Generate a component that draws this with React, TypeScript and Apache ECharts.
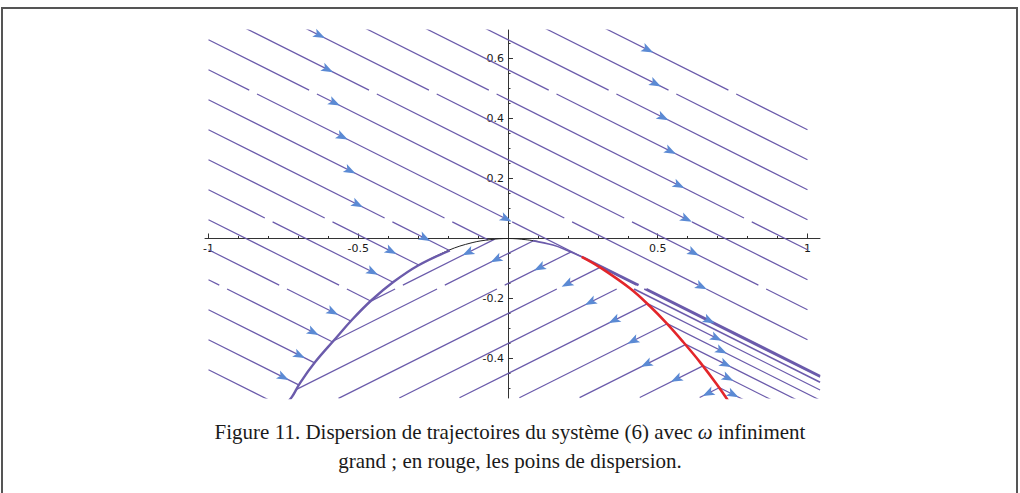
import React, { useEffect, useRef } from "react";
import * as echarts from "echarts";

// ---- data ----
const upperSlope = -0.5;
const lowerSlope = 0.5;

// upper family y = -0.5x + c  (arrows point right / down)
const upperC = [0.8625, 0.7625, 0.6625, 0.5625, 0.4625, 0.3625, 0.2625, 0.1625, 0.0625, -0.0375, -0.1375, -0.2375, -0.3375, -0.4375, -0.5375, -0.6375, -0.7375, -0.8375, -0.9375];
const upperXStart = [-1, -1, -1, -1, -1, -1, -1, -1, -1, -1, -1, -1, -1, -1, -1, -1, -1, -1, -1];
const upperXEnd = [1, 1, 1, 1, 1, 1, 1, 1, 0.25, -0.066, -0.197, -0.298, -0.382, -0.457, -0.525, -0.587, -0.644, -0.699, -0.75];

// bundle of lines leaving the tangency point (thick band)
const bandC = [0.0625, 0.059, 0.042];
const bandXStart = [0.25, 0.309, 0.392];
const bandXEnd = [1.042, 1.042, 1.042];

// thin lines leaving the red curve to the right
const fanC = [0.016, -0.018, -0.056, -0.098, -0.144];
const fanXStart = [0.466, 0.533, 0.594, 0.651, 0.705];
const fanXEnd = [1.042, 1.042, 1.042, 1.042, 1.042];

// lower family y = 0.5x + d  (arrows point left / down)
const lowerD = [0.02, -0.05, -0.15, -0.25, -0.35, -0.45, -0.55, -0.65, -0.75, -0.85];
const lowerXRight = [-0.044, 0.085, 0.211, 0.309, 0.392, 0.466, 0.533, 0.594, 0.651, 0.705];
const lowerXLeft = [-0.456, -0.585, -0.711, -0.566, -0.363, -0.162, 0.038, 0.239, 0.44, 0.64];

// heights at which the streamlines are interrupted
const gapBandsY = [0.488, 0.062, -0.162];
const gapHalfWidthX = 0.013;

// curves
const leftBranchX = [-0.74, -0.722, -0.694, -0.644, -0.578, -0.52, -0.455, -0.384, -0.3, -0.194];
const leftBranchY = [-0.548, -0.529, -0.481, -0.412, -0.336, -0.27, -0.205, -0.146, -0.09, -0.04];
const blackCurveX = [-0.3, -0.2, -0.12, -0.06, 0, 0.06, 0.1];
const blackCurveY = [-0.09, -0.04, -0.014, -0.004, 0, -0.004, -0.01];
const rightThinX = [0.083, 0.15, 0.196, 0.246];
const rightThinY = [-0.007, -0.022, -0.039, -0.061];
const redX = [0.246, 0.307, 0.407, 0.474, 0.53, 0.585, 0.641, 0.697, 0.74];
const redY = [-0.061, -0.096, -0.166, -0.226, -0.283, -0.345, -0.412, -0.486, -0.548];

// arrows
const upperArrowC = [0.3625, 0.2625, 0.1625, 0.0625, -0.0375, -0.1375, -0.1375, -0.2375, -0.3375, -0.5375, -0.6375, -0.7375, -0.8375,
  0.8625, 0.7625, 0.6625, 0.5625, 0.4625, 0.3625, 0.2625, 0.1625, 0.0625, 0.0625, 0.016, -0.018, -0.056, -0.098, -0.144];
const upperArrowX = [-0.629, -0.602, -0.579, -0.553, -0.527, -0.502, -0.277, -0.39, -0.452, -0.585, -0.65, -0.696, -0.75,
  0.467, 0.493, 0.518, 0.543, 0.571, 0.596, 0.62, 0.646, 0.672, -0.006, 0.696, 0.713, 0.727, 0.735, 0.752];
const lowerArrowD = [0.02, -0.05, -0.15, -0.25, -0.35, -0.45, -0.55, -0.65, -0.75, -0.85];
const lowerArrowX = [-0.134, -0.04, 0.105, 0.197, 0.275, 0.354, 0.417, 0.462, 0.562, 0.668];

// axis ticks
const xMajorTicks = [-1, -0.5, 0.5, 1];
const xMinorTicks = [-1, -0.9, -0.8, -0.7, -0.6, -0.5, -0.4, -0.3, -0.2, -0.1, 0.1, 0.2, 0.3, 0.4, 0.5, 0.6, 0.7, 0.8, 0.9, 1];
const yMajorTicks = [-0.4, -0.2, 0.2, 0.4, 0.6];
const yMinorTicks = [-0.5, -0.45, -0.4, -0.35, -0.3, -0.25, -0.2, -0.15, -0.1, -0.05, 0.05, 0.1, 0.15, 0.2, 0.25, 0.3, 0.35, 0.4, 0.45, 0.5, 0.55, 0.6, 0.65];

const captionLine1 = "Figure 11. Dispersion de trajectoires du système (6) avec {i|ω} infiniment";
const captionLine2 = "grand ; en rouge, les poins de dispersion.";

const PURPLE = "#6b5bab";
const ARROW = "#5b8ad4";
const XMIN = -1.0117, XMAX = 1.0418, YMIN = -0.5317, YMAX = 0.695;
const GRID = { left: 205, top: 30, width: 615, height: 368 };

// split a straight streamline into pieces, leaving the gaps seen in the picture
function pieces(slope: number, c: number, x0: number, x1: number): number[][][] {
  const lo = Math.min(x0, x1), hi = Math.max(x0, x1);
  const cuts = gapBandsY.map((yb) => (yb - c) / slope).filter((xb) => xb > lo + gapHalfWidthX && xb < hi - gapHalfWidthX).sort((a, b) => a - b);
  const out: number[][][] = [];
  let start = lo;
  cuts.forEach((xb) => {
    out.push([[start, slope * start + c], [xb - gapHalfWidthX, slope * (xb - gapHalfWidthX) + c]]);
    start = xb + gapHalfWidthX;
  });
  out.push([[start, slope * start + c], [hi, slope * hi + c]]);
  return out;
}
function zip(xs: number[], ys: number[]) {
  return xs.map((x, i) => [x, ys[i]]);
}
function lineSeries(data: number[][], color: string, width: number, z = 2, smooth: boolean | number = false) {
  return { type: "line", data, showSymbol: false, symbol: "none", smooth, clip: true, silent: true, z,
    lineStyle: { color, width, cap: "butt" } };
}

const ARROW_PATH = "path://M5,0 L10,13 L5,10 L0,13 Z";

export default function App() {
  const ref = useRef<HTMLDivElement>(null);
  useEffect(() => {
    document.body.style.margin = "0";
    const chart = echarts.init(ref.current!, undefined, { renderer: "svg" });
    const series: any[] = [];
    const addFamily = (slope: number, cs: number[], xa: number[], xb: number[], width: (i: number) => number, z: number) => {
      cs.forEach((c, i) => pieces(slope, c, xa[i], xb[i]).forEach((p) => series.push(lineSeries(p, PURPLE, width(i), z))));
    };
    addFamily(upperSlope, upperC, upperXStart, upperXEnd, () => 1.2, 2);
    addFamily(upperSlope, bandC, bandXStart, bandXEnd, (i) => (i === 0 ? 2.4 : 1.6), 3);
    addFamily(upperSlope, fanC, fanXStart, fanXEnd, () => 1.2, 2);
    addFamily(lowerSlope, lowerD, lowerXLeft, lowerXRight, () => 1.2, 2);
    series.push(lineSeries(zip(blackCurveX, blackCurveY), "#222", 1, 3, 0.4));
    series.push(lineSeries(zip(leftBranchX, leftBranchY), PURPLE, 2.4, 4, 0.4));
    series.push(lineSeries(zip(rightThinX, rightThinY), PURPLE, 1.6, 4, 0.4));
    series.push(lineSeries(zip(redX, redY), "#e3262a", 2.6, 5, 0.4));
    series.push({
      type: "scatter", z: 6, silent: true, symbol: ARROW_PATH, symbolSize: [9, 12], symbolRotate: -116.57,
      itemStyle: { color: ARROW, opacity: 1 },
      data: upperArrowX.map((x, i) => [x, upperSlope * x + upperArrowC[i]]),
    });
    series.push({
      type: "scatter", z: 6, silent: true, symbol: ARROW_PATH, symbolSize: [9, 12], symbolRotate: 116.57,
      itemStyle: { color: ARROW, opacity: 1 },
      data: lowerArrowX.map((x, i) => [x, lowerSlope * x + lowerArrowD[i]]),
    });

    // place axes through the origin with offsets computed from the scales
    const zeroYpx = GRID.top + (YMAX / (YMAX - YMIN)) * GRID.height;
    const zeroXpx = GRID.left + (-XMIN / (XMAX - XMIN)) * GRID.width;
    const xOffset = zeroYpx - (GRID.top + GRID.height);
    const yOffset = GRID.left - zeroXpx;

    const labelStyle = { fontFamily: "DejaVu Sans", fontSize: 11, color: "#1a1a1a" };
    chart.setOption({
      animation: false,
      backgroundColor: "#fff",
      grid: { ...GRID, containLabel: false },
      title: {
        text: captionLine1 + "\n" + captionLine2,
        left: "center",
        top: 412,
        textStyle: {
          fontFamily: "Liberation Serif", fontSize: 21, fontWeight: "normal", color: "#1a1a1a", lineHeight: 29,
          rich: { i: { fontFamily: "Liberation Serif", fontStyle: "italic", fontSize: 21, color: "#1a1a1a", lineHeight: 29 } },
        },
      },
      xAxis: [
        {
          type: "value", min: XMIN, max: XMAX, position: "bottom", offset: xOffset,
          axisLine: { show: true, onZero: false, lineStyle: { color: "#333", width: 1 } },
          axisTick: { show: true, inside: true, length: 5, customValues: xMajorTicks, lineStyle: { color: "#333" } },
          axisLabel: { show: true, customValues: xMajorTicks, margin: 5, ...labelStyle },
          splitLine: { show: false },
        },
        {
          type: "value", min: XMIN, max: XMAX, position: "bottom", offset: xOffset,
          axisLine: { show: false, onZero: false },
          axisTick: { show: true, inside: true, length: 2.5, customValues: xMinorTicks, lineStyle: { color: "#333" } },
          axisLabel: { show: false },
          splitLine: { show: false },
        },
      ],
      yAxis: [
        {
          type: "value", min: YMIN, max: YMAX, position: "left", offset: yOffset,
          axisLine: { show: true, onZero: false, lineStyle: { color: "#333", width: 1 } },
          axisTick: { show: true, inside: true, length: 5, customValues: yMajorTicks, lineStyle: { color: "#333" } },
          axisLabel: { show: true, customValues: yMajorTicks, margin: 4, ...labelStyle },
          splitLine: { show: false },
        },
        {
          type: "value", min: YMIN, max: YMAX, position: "left", offset: yOffset,
          axisLine: { show: false, onZero: false },
          axisTick: { show: true, inside: true, length: 2.5, customValues: yMinorTicks, lineStyle: { color: "#333" } },
          axisLabel: { show: false },
          splitLine: { show: false },
        },
      ],
      graphic: [
        { type: "rect", shape: { x: 2, y: 8, width: 1015, height: 500 }, style: { fill: "none", stroke: "#555", lineWidth: 2 }, silent: true, z: 10 },
      ],
      series,
    });
    return () => chart.dispose();
  }, []);
  return <div ref={ref} style={{ width: 1020, height: 493 }} />;
}
